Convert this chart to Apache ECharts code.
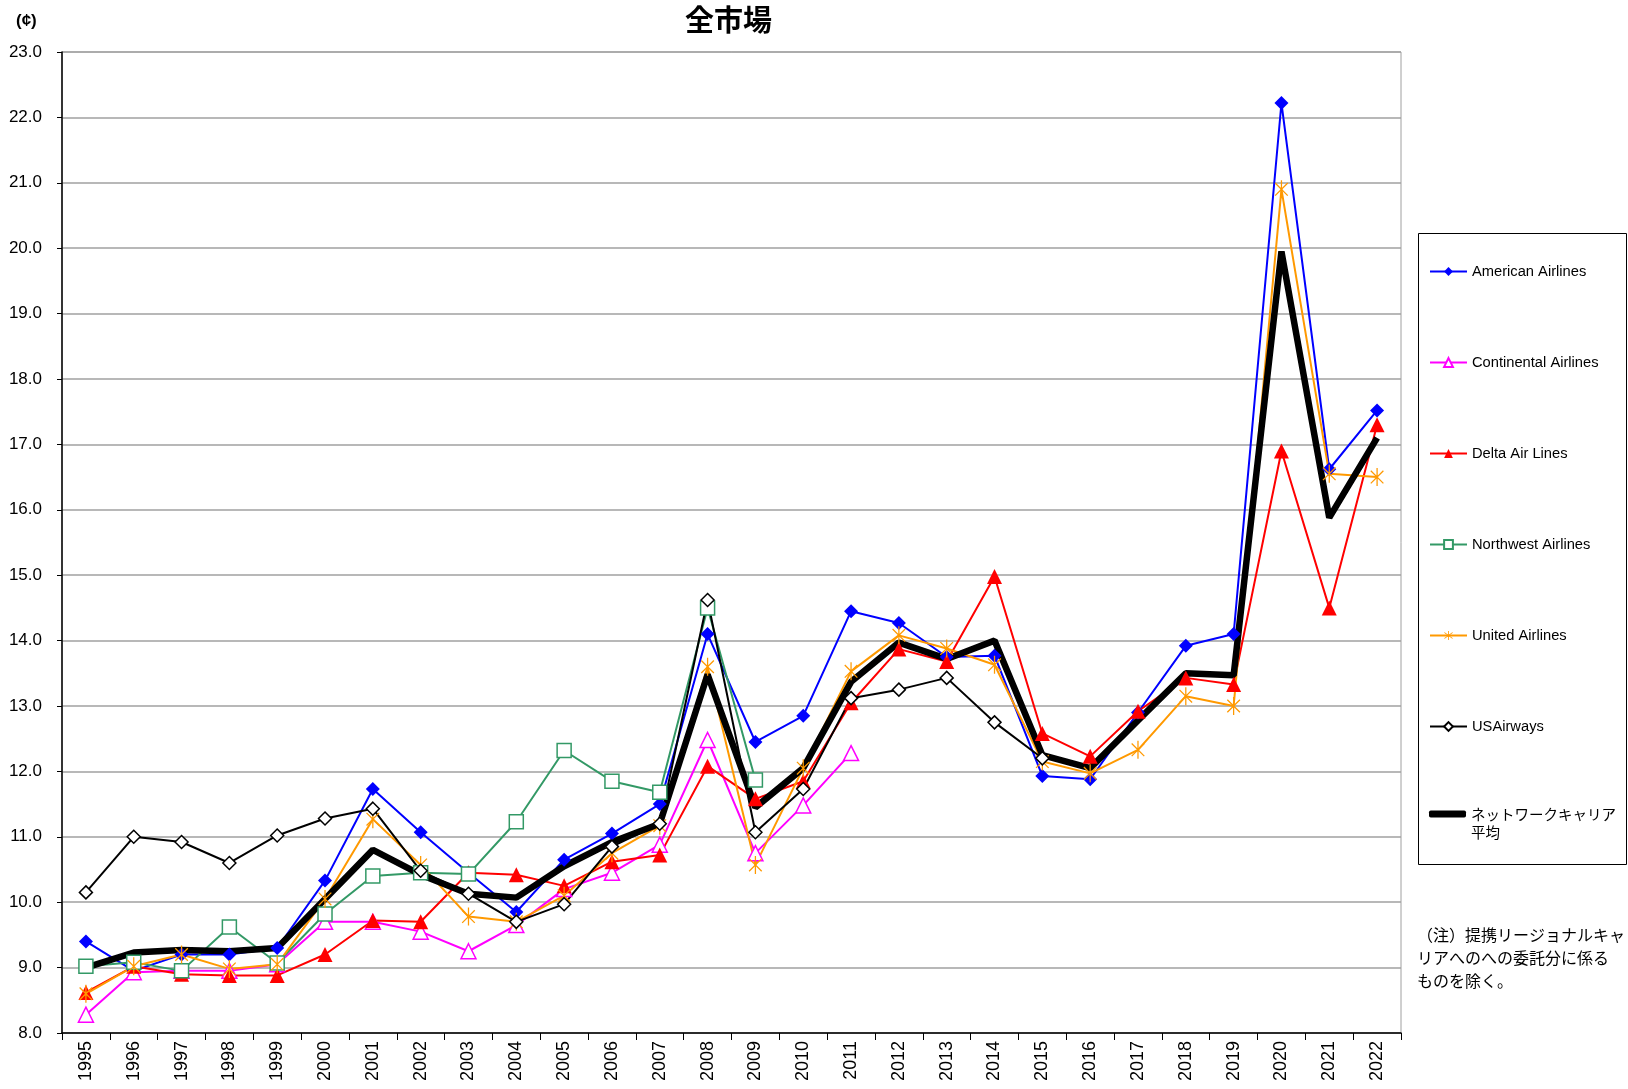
<!DOCTYPE html>
<html>
<head>
    <title>全市場</title>
    <meta charset="UTF-8">
    <script src="https://cdn.jsdelivr.net/npm/echarts@6/dist/echarts.min.js"></script>
    <style>
        html, body { margin: 0; padding: 0; background: #fff; }
        #chart { width: 1628px; height: 1089px; }
    </style>
</head>
<body>
    <div id="chart"></div>
    <script>
        // 年（横軸）
        var years = ['1995','1996','1997','1998','1999','2000','2001','2002','2003','2004','2005','2006','2007','2008',
                     '2009','2010','2011','2012','2013','2014','2015','2016','2017','2018','2019','2020','2021','2022'];

        // 各社の値（¢）
        var american = [9.40, 8.95, 9.20, 9.20, 9.30, 10.33, 11.73, 11.07, 10.45, 9.85, 10.65, 11.05, 11.50, 14.10,
                        12.45, 12.85, 14.45, 14.27, 13.75, 13.77, 11.93, 11.88, 12.90, 13.92, 14.10, 22.22, 16.62, 17.52];
        var continental = [8.28, 8.93, 8.95, 8.95, 9.05, 9.70, 9.70, 9.55, 9.25, 9.65, 10.20, 10.45, 10.88, 12.48,
                           10.75, 11.48, 12.28, null, null, null, null, null, null, null, null, null, null, null];
        var delta = [8.62, 9.02, 8.90, 8.88, 8.88, 9.20, 9.72, 9.70, 10.45, 10.42, 10.25, 10.62, 10.72, 12.08,
                     11.58, 11.85, 13.05, 13.87, 13.68, 14.98, 12.58, 12.23, 12.92, 13.43, 13.33, 16.90, 14.50, 17.30];
        var northwest = [9.02, 9.08, 8.95, 9.62, 9.07, 9.82, 10.40, 10.45, 10.43, 11.23, 12.32, 11.85, 11.68, 14.50,
                         11.87, null, null, null, null, null, null, null, null, null, null, null, null, null];
        var united = [8.60, 9.02, 9.20, 8.98, 9.05, 10.05, 11.27, 10.57, 9.78, 9.70, 10.10, 10.75, 11.17, 13.60,
                      10.57, 12.05, 13.53, 14.08, 13.88, 13.63, 12.15, 11.97, 12.33, 13.15, 13.00, 20.90, 16.55, 16.50];
        var usairways = [10.15, 11.00, 10.92, 10.60, 11.02, 11.28, 11.43, 10.48, 10.13, 9.70, 9.97, 10.85, 11.20, 14.62,
                         11.07, 11.73, 13.12, 13.25, 13.43, 12.75, 12.20, null, null, null, null, null, null, null];
        var networkAvg = [9.00, 9.23, 9.27, 9.25, 9.30, 10.05, 10.80, 10.42, 10.13, 10.07, 10.55, 10.92, 11.20, 13.48,
                          11.45, 12.05, 13.37, 13.97, 13.72, 14.00, 12.25, 12.05, 12.78, 13.50, 13.47, 19.95, 15.88, 17.10];

        var avgName = 'ネットワークキャリア平均';

        // アスタリスク型マーカー
        var asterisk = 'path://M9.3,0 L10.7,0 L10.7,20 L9.3,20 Z M2.5,3.5 L3.5,2.5 L17.5,16.5 L16.5,17.5 Z M16.5,2.5 L17.5,3.5 L3.5,17.5 L2.5,16.5 Z';

        var latin = '"Liberation Sans", Arial, sans-serif';
        var cjk = '"Noto Sans CJK JP", sans-serif';

        function lineSeries(name, data, color, symbol, size, filled) {
            return {
                name: name,
                type: 'line',
                data: data,
                symbol: symbol,
                symbolSize: size,
                symbolKeepAspect: true,
                showAllSymbol: true,
                connectNulls: false,
                animation: false,
                lineStyle: { color: color, width: 2 },
                itemStyle: { color: filled ? color : '#fff', borderColor: color, borderWidth: filled ? 0 : 1.5 }
            };
        }

        var chart = echarts.init(document.getElementById('chart'));
        chart.setOption({
            animation: false,
            backgroundColor: '#fff',
            title: [
                { text: '全市場', left: 680, top: 0,
                  textStyle: { fontFamily: cjk, fontSize: 29, fontWeight: 'bold', color: '#000' } },
                { text: '(¢)', left: 11, top: 8,
                  textStyle: { fontFamily: latin, fontSize: 17, fontWeight: 'bold', color: '#000' } },
                { text: '（注）提携リージョナルキャ\nリアへのへの委託分に係る\nものを除く。', left: 1412, top: 918,
                  textStyle: { fontFamily: cjk, fontSize: 16, fontWeight: 'normal', color: '#000', lineHeight: 23 } }
            ],
            grid: {
                left: 62, right: 227, top: 52, bottom: 56,
                containLabel: false, outerBoundsMode: 'none',
                show: true, borderColor: '#a0a0a0', borderWidth: 1, backgroundColor: 'transparent'
            },
            legend: [
                {
                    orient: 'vertical', left: 1424, top: 259, itemGap: 76, itemWidth: 37, itemHeight: 11,
                    selectedMode: false,
                    data: ['American Airlines', 'Continental Airlines', 'Delta Air Lines', 'Northwest Airlines', 'United Airlines', 'USAirways'],
                    textStyle: { fontFamily: latin, fontSize: 14.7, color: '#000' }
                },
                {
                    orient: 'vertical', left: 1424, top: 784, itemWidth: 37, itemHeight: 7,
                    selectedMode: false,
                    data: [{ name: avgName, icon: 'roundRect' }],
                    formatter: function () { return '{e| }\n{t|ネットワークキャリア}\n{t|平均}'; },
                    textStyle: { fontFamily: cjk, fontSize: 14, color: '#000',
                        rich: { e: { lineHeight: 18, fontSize: 14 }, t: { lineHeight: 18, fontSize: 14.5, fontFamily: cjk } } }
                }
            ],
            graphic: [
                { type: 'rect', shape: { x: 1418.5, y: 233.5, width: 208, height: 631 },
                  style: { fill: 'none', stroke: '#000', lineWidth: 1 }, silent: true }
            ],
            xAxis: {
                type: 'category',
                data: years,
                boundaryGap: true,
                axisLine: { lineStyle: { color: '#000', width: 1.5 } },
                axisTick: { show: true, length: 7, lineStyle: { color: '#000' } },
                axisLabel: { rotate: 90, interval: 0, margin: 8, fontFamily: latin, fontSize: 18, color: '#000' },
                splitLine: { show: false }
            },
            yAxis: {
                type: 'value',
                min: 8, max: 23, interval: 1,
                axisLine: { show: true, lineStyle: { color: '#000', width: 1.5 } },
                axisTick: { show: true, length: 5, lineStyle: { color: '#000' } },
                axisLabel: { margin: 20, fontFamily: latin, fontSize: 17, color: '#000',
                             formatter: function (v) { return v.toFixed(1); } },
                splitLine: { show: true, lineStyle: { color: '#a0a0a0', width: 1.5 } }
            },
            series: [
                lineSeries('American Airlines', american, '#0000ff', 'diamond', 14, true),
                lineSeries('Continental Airlines', continental, '#ff00ff', 'triangle', 15, false),
                lineSeries('Delta Air Lines', delta, '#ff0000', 'triangle', 15, true),
                lineSeries('Northwest Airlines', northwest, '#339966', 'rect', 14, false),
                lineSeries('United Airlines', united, '#ff9900', asterisk, 18, true),
                lineSeries('USAirways', usairways, '#000000', 'diamond', 13, false),
                {
                    name: avgName, type: 'line', data: networkAvg,
                    symbol: 'none', animation: false,
                    lineStyle: { color: '#000', width: 6.5 },
                    itemStyle: { color: '#000' }
                }
            ]
        });
    </script>
</body>
</html>
